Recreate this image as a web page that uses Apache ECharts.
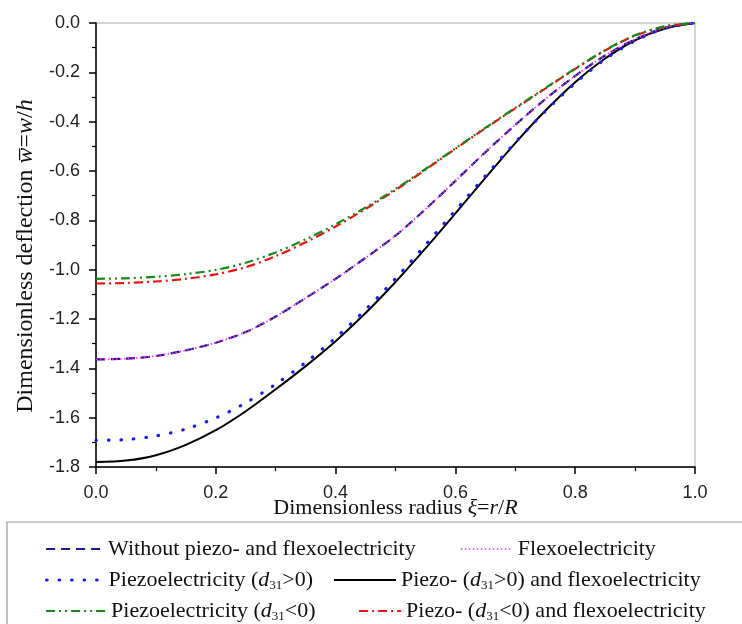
<!DOCTYPE html>
<html><head><meta charset="utf-8">
<script src="https://cdn.jsdelivr.net/npm/echarts@6/dist/echarts.min.js"></script>
<style>html,body{margin:0;padding:0;background:#fff}#c{width:742px;height:624px}</style>
</head><body><div id="c"></div>
<script>
// ---- data ----
const xi = [0,0.05,0.1,0.15,0.2,0.25,0.3,0.35,0.4,0.45,0.5,0.55,0.6,0.65,0.7,0.75,0.8,0.85,0.9,0.95,1];
const withoutVals = [-1.364,-1.361,-1.350,-1.327,-1.296,-1.253,-1.190,-1.115,-1.037,-0.952,-0.862,-0.755,-0.640,-0.524,-0.413,-0.309,-0.214,-0.132,-0.066,-0.019,0];
const flexoVals = [-1.364,-1.361,-1.350,-1.327,-1.296,-1.253,-1.190,-1.115,-1.037,-0.952,-0.862,-0.755,-0.640,-0.524,-0.413,-0.309,-0.214,-0.132,-0.066,-0.019,0];
const piezoPosVals = [-1.692,-1.689,-1.674,-1.646,-1.601,-1.540,-1.464,-1.376,-1.276,-1.162,-1.036,-0.900,-0.760,-0.620,-0.484,-0.358,-0.244,-0.147,-0.072,-0.021,0];
const piezoPosFlexoVals = [-1.780,-1.774,-1.752,-1.710,-1.651,-1.574,-1.485,-1.391,-1.290,-1.176,-1.050,-0.914,-0.772,-0.628,-0.487,-0.356,-0.240,-0.144,-0.070,-0.022,0];
const piezoNegVals = [-1.037,-1.035,-1.029,-1.018,-1.001,-0.972,-0.930,-0.877,-0.816,-0.748,-0.673,-0.592,-0.508,-0.425,-0.344,-0.264,-0.185,-0.110,-0.050,-0.013,0];
const piezoNegFlexoVals = [-1.056,-1.054,-1.048,-1.037,-1.019,-0.990,-0.945,-0.889,-0.825,-0.754,-0.677,-0.595,-0.510,-0.427,-0.346,-0.266,-0.186,-0.111,-0.051,-0.014,0];
const xTickLabels = ['0.0','0.2','0.4','0.6','0.8','1.0'];
const yTickLabels = ['-1.8','-1.6','-1.4','-1.2','-1.0','-0.8','-0.6','-0.4','-0.2','0.0'];

const N1 = 'Without piezo- and flexoelectricity';
const N2 = 'Flexoelectricity';
const N3 = 'Piezoelectricity (d31>0)';
const N4 = 'Piezo- (d31>0) and flexoelectricity';
const N5 = 'Piezoelectricity (d31<0)';
const N6 = 'Piezo- (d31<0) and flexoelectricity';
const richNames = {};
richNames[N1] = '{n|Without piezo- and flexoelectricity}';
richNames[N2] = '{n|Flexoelectricity}';
richNames[N3] = '{n|Piezoelectricity (}{i|d}{s|31}{n|>0)}';
richNames[N4] = '{n|Piezo- (}{i|d}{s|31}{n|>0) and flexoelectricity}';
richNames[N5] = '{n|Piezoelectricity (}{i|d}{s|31}{n|<0)}';
richNames[N6] = '{n|Piezo- (}{i|d}{s|31}{n|<0) and flexoelectricity}';

const pairs = v => xi.map((x, i) => [x, v[i]]);
const SERIF = 'Liberation Serif, Times New Roman, serif';
const SANS = 'Liberation Sans, Arial, sans-serif';
const rich = {
  n: {fontFamily: SERIF, fontSize: 22, color: '#111'},
  i: {fontFamily: SERIF, fontSize: 22, color: '#111', fontStyle: 'italic'},
  s: {fontFamily: SERIF, fontSize: 13, color: '#111', padding: [12,0,0,0], verticalAlign: 'top'}
};
const richY = {
  n: {fontFamily: SERIF, fontSize: 24, color: '#111'},
  i: {fontFamily: SERIF, fontSize: 24, color: '#111', fontStyle: 'italic'}
};

const mk = (name, vals, color, width, dash, extra) => Object.assign({
  name, type: 'line', data: pairs(vals), symbol: 'none', smooth: 0.3,
  lineStyle: {color, width, type: dash}, itemStyle: {color}
}, extra || {});

const series = [
  mk(N4, piezoPosFlexoVals, '#000000', 2, 'solid'),
  mk(N3, piezoPosVals, '#1a1aee', 3, [0.5, 12], {lineStyle: {color:'#1a1aee', width: 3.2, type:[0.5,12], cap:'round'}}),
  mk(N1, withoutVals, '#1a1a88', 2.2, [9, 6]),
  mk(N2, flexoVals, '#ff22ff', 1.6, [1.5, 2.5]),
  mk(N6, piezoNegFlexoVals, '#ee1111', 2.2, [9, 4, 2, 4]),
  mk(N5, piezoNegVals, '#188818', 2.2, [9, 4, 2, 4, 2, 4])
];

const lg = (name, left, top, w, lw, extra) => Object.assign({
  data: [name], left, top, padding: 0, itemWidth: w, itemHeight: 10, selectedMode: false,
  itemStyle: {opacity: 0, borderWidth: 0},
  lineStyle: {width: lw},
  formatter: n => richNames[n],
  textStyle: {rich}
}, extra || {});

const option = {
  animation: false,
  backgroundColor: '#fff',
  grid: {left: 96, right: 47, top: 23, bottom: 157, show: true, borderColor: '#a8a8a8', borderWidth: 1},
  xAxis: {
    type: 'value', min: 0, max: 1, interval: 0.2,
    axisLine: {show: true, onZero: false, lineStyle: {color: '#000', width: 1.5}},
    axisTick: {show: true, inside: false, length: 7, lineStyle: {color: '#000', width: 1.5}},
    minorTick: {show: true, splitNumber: 2, length: 4, lineStyle: {color: '#000', width: 1.2}},
    splitLine: {show: false},
    axisLabel: {margin: 17, fontFamily: SANS, fontSize: 18, color: '#222',
      formatter: (v) => xTickLabels[Math.round(v / 0.2)]},
    name: '{n|Dimensionless radius }{i|ξ}{n|=}{i|r}{n|/}{i|R}',
    nameLocation: 'middle', nameGap: 30, nameMoveOverlap: false,
    nameTextStyle: {rich}
  },
  yAxis: {
    type: 'value', min: -1.8, max: 0, interval: 0.2,
    axisLine: {show: true, onZero: false, lineStyle: {color: '#000', width: 1.5}},
    axisTick: {show: true, inside: false, length: 7, lineStyle: {color: '#000', width: 1.5}},
    minorTick: {show: true, splitNumber: 2, length: 4, lineStyle: {color: '#000', width: 1.2}},
    splitLine: {show: false},
    axisLabel: {margin: 16, fontFamily: SANS, fontSize: 18, color: '#222',
      formatter: (v) => yTickLabels[Math.round((v + 1.8) / 0.2)]},
    name: '{n|Dimensionless deflection }{i|w\u0305}{n|=}{i|w}{n|/}{i|h}',
    nameLocation: 'middle', nameGap: 58, nameMoveOverlap: false,
    nameTextStyle: {rich: richY, padding: [0, 22, 0, 0]}
  },
  legend: [
    lg(N1, 45, 538, 57, 2.2),
    lg(N2, 460, 538, 52, 1.6),
    lg(N3, 45, 569, 57, 3.2),
    lg(N4, 333, 569, 62, 2),
    lg(N5, 45, 600, 60, 2.2),
    lg(N6, 358, 600, 42, 2.2)
  ],
  graphic: [{type: 'rect', shape: {x: 7, y: 522, width: 800, height: 140}, style: {fill: 'none', stroke: '#999', lineWidth: 1.2}, silent: true}],
  series
};
const chart = echarts.init(document.getElementById('c'), null, {renderer: 'canvas'});
chart.setOption(option);
</script></body></html>
